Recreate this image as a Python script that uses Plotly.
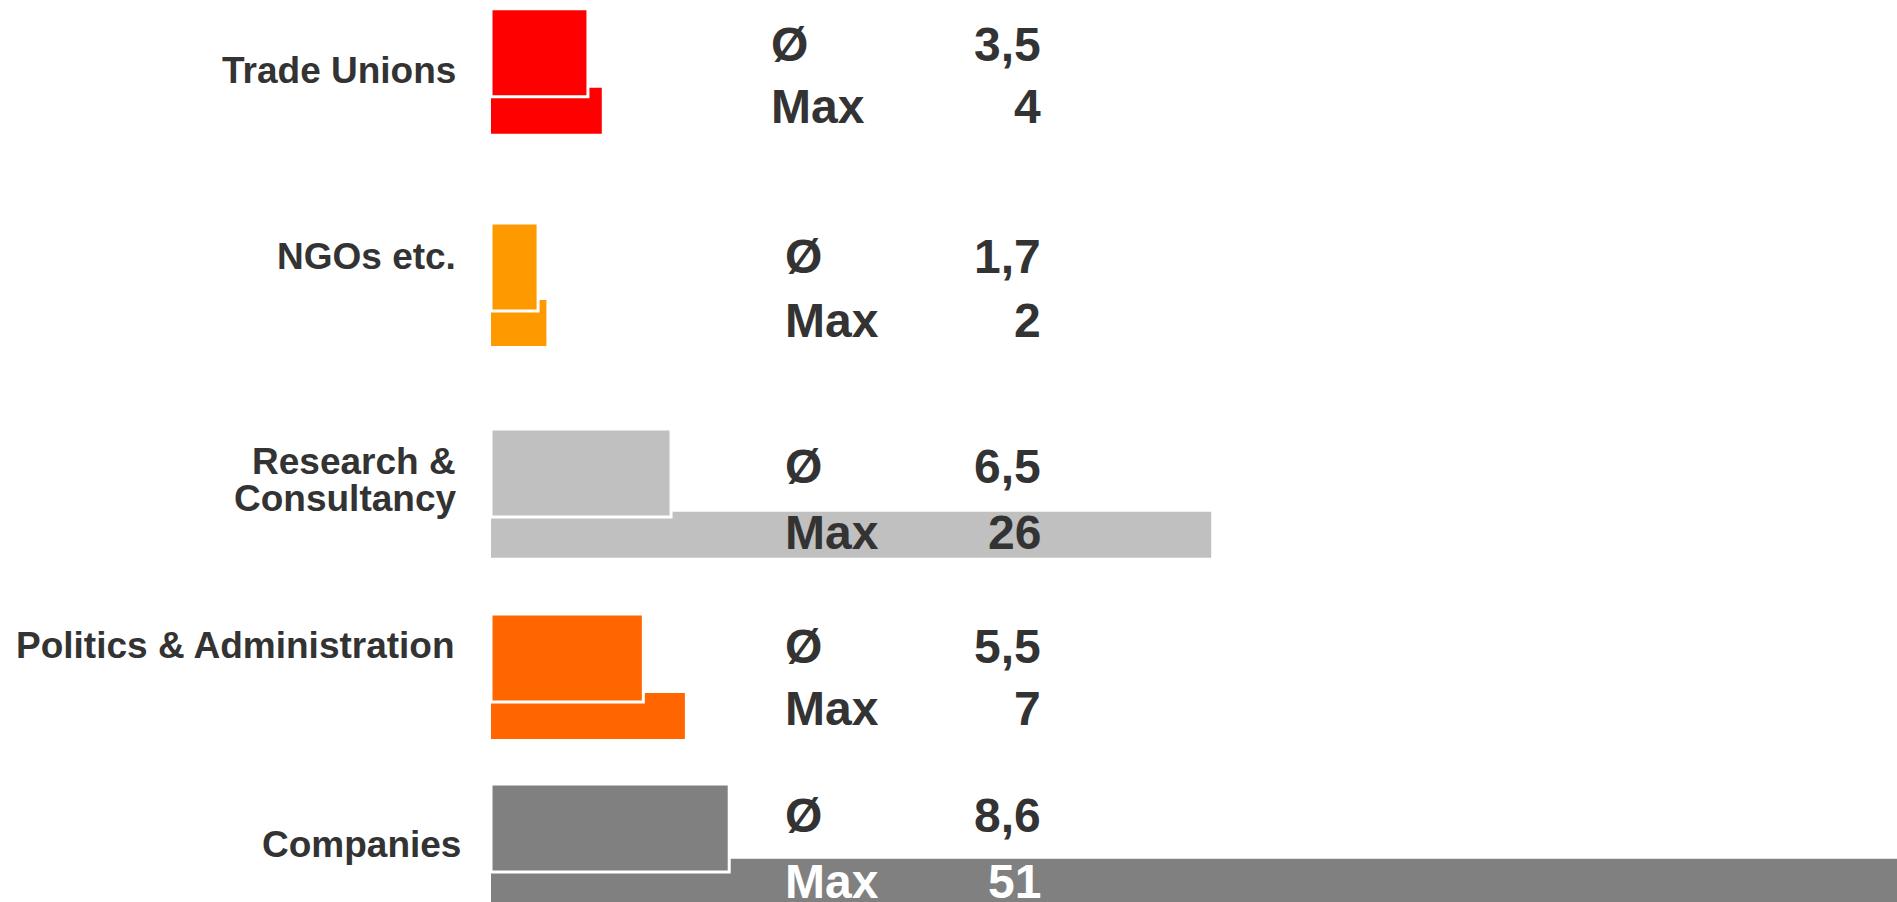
import plotly.graph_objects as go

# ---- data ----
categories = ["Trade Unions", "NGOs etc.", "Research &\nConsultancy", "Politics & Administration", "Companies"]
avg_values = [3.5, 1.7, 6.5, 5.5, 8.6]
max_values = [4, 2, 26, 7, 51]
avg_labels = ["3,5", "1,7", "6,5", "5,5", "8,6"]
max_labels = ["4", "2", "26", "7", "51"]

# ---- styles ----
colors = ["#FF0000", "#FF9900", "#C0C0C0", "#FF6600", "#808080"]
max_text_colors = ["#333333", "#333333", "#333333", "#333333", "#FFFFFF"]
TEXT = "#333333"
FONT = "Liberation Sans, Arial, sans-serif"

# ---- layout positions (screen pixels) ----
W, H = 1897, 902
LEFT = 491                      # x pixel of the bars' zero line
PX_PER_UNIT = 27.7
avg_rows = [52.8, 267, 473, 658, 828]
max_rows = [110.7, 323, 534.8, 716, 881.7]
avg_text_rows = [44, 256, 466, 646, 815]
max_text_rows = [106, 320, 532, 708, 881]
label_rows = [70.8, 256.5, 480, 645.5, 844]
label_right = [458, 458, 458, 457, 463]
key_left = [769, 783, 783, 783, 783]
value_right = 1043

fig = go.Figure()
fig.add_trace(go.Bar(
    y=max_rows, x=max_values, orientation="h", width=46,
    marker=dict(color=colors, line=dict(width=0)),
    hoverinfo="skip", showlegend=False,
))
fig.add_trace(go.Bar(
    y=avg_rows, x=avg_values, orientation="h", width=88,
    marker=dict(color=colors, line=dict(width=3, color="#FFFFFF")),
    hoverinfo="skip", showlegend=False,
))

annotations = []
for i, cat in enumerate(categories):
    lines = cat.split("\n")
    n = len(lines)
    for j, line in enumerate(lines):
        annotations.append(dict(
            text=line, xref="paper", yref="y", x=0, xshift=label_right[i] - LEFT,
            y=label_rows[i] + (j - (n - 1) / 2) * 37,
            xanchor="right", yanchor="middle", showarrow=False,
            font=dict(family=FONT, size=37, color=TEXT, weight="bold"),
        ))
    # Ø row
    annotations.append(dict(
        text="Ø", xref="paper", yref="y", x=0, xshift=key_left[i] - LEFT,
        y=avg_text_rows[i], xanchor="left", yanchor="middle", showarrow=False,
        font=dict(family=FONT, size=48, color=TEXT, weight="bold"),
    ))
    annotations.append(dict(
        text=avg_labels[i], xref="paper", yref="y", x=0, xshift=value_right - LEFT,
        y=avg_text_rows[i], xanchor="right", yanchor="middle", showarrow=False,
        font=dict(family=FONT, size=48, color=TEXT, weight="bold"),
    ))
    # Max row
    annotations.append(dict(
        text="Max", xref="paper", yref="y", x=0, xshift=key_left[i] - LEFT,
        y=max_text_rows[i], xanchor="left", yanchor="middle", showarrow=False,
        font=dict(family=FONT, size=48, color=max_text_colors[i], weight="bold"),
    ))
    annotations.append(dict(
        text=max_labels[i], xref="paper", yref="y", x=0, xshift=value_right - LEFT,
        y=max_text_rows[i], xanchor="right", yanchor="middle", showarrow=False,
        font=dict(family=FONT, size=48, color=max_text_colors[i], weight="bold"),
    ))

fig.update_layout(
    width=W, height=H,
    margin=dict(l=LEFT, r=0, t=0, b=0, pad=0),
    barmode="overlay",
    paper_bgcolor="#FFFFFF", plot_bgcolor="#FFFFFF",
    xaxis=dict(range=[0, (W - LEFT) / PX_PER_UNIT], showgrid=False, zeroline=False,
               showticklabels=False, showline=False, fixedrange=True),
    yaxis=dict(range=[H, 0], showgrid=False, zeroline=False,
               showticklabels=False, showline=False, fixedrange=True),
    annotations=annotations,
)

fig.write_html(
    "out.html",
    config={"displayModeBar": False},
    post_script="document.body.style.margin='0';document.body.style.overflow='hidden';",
)
